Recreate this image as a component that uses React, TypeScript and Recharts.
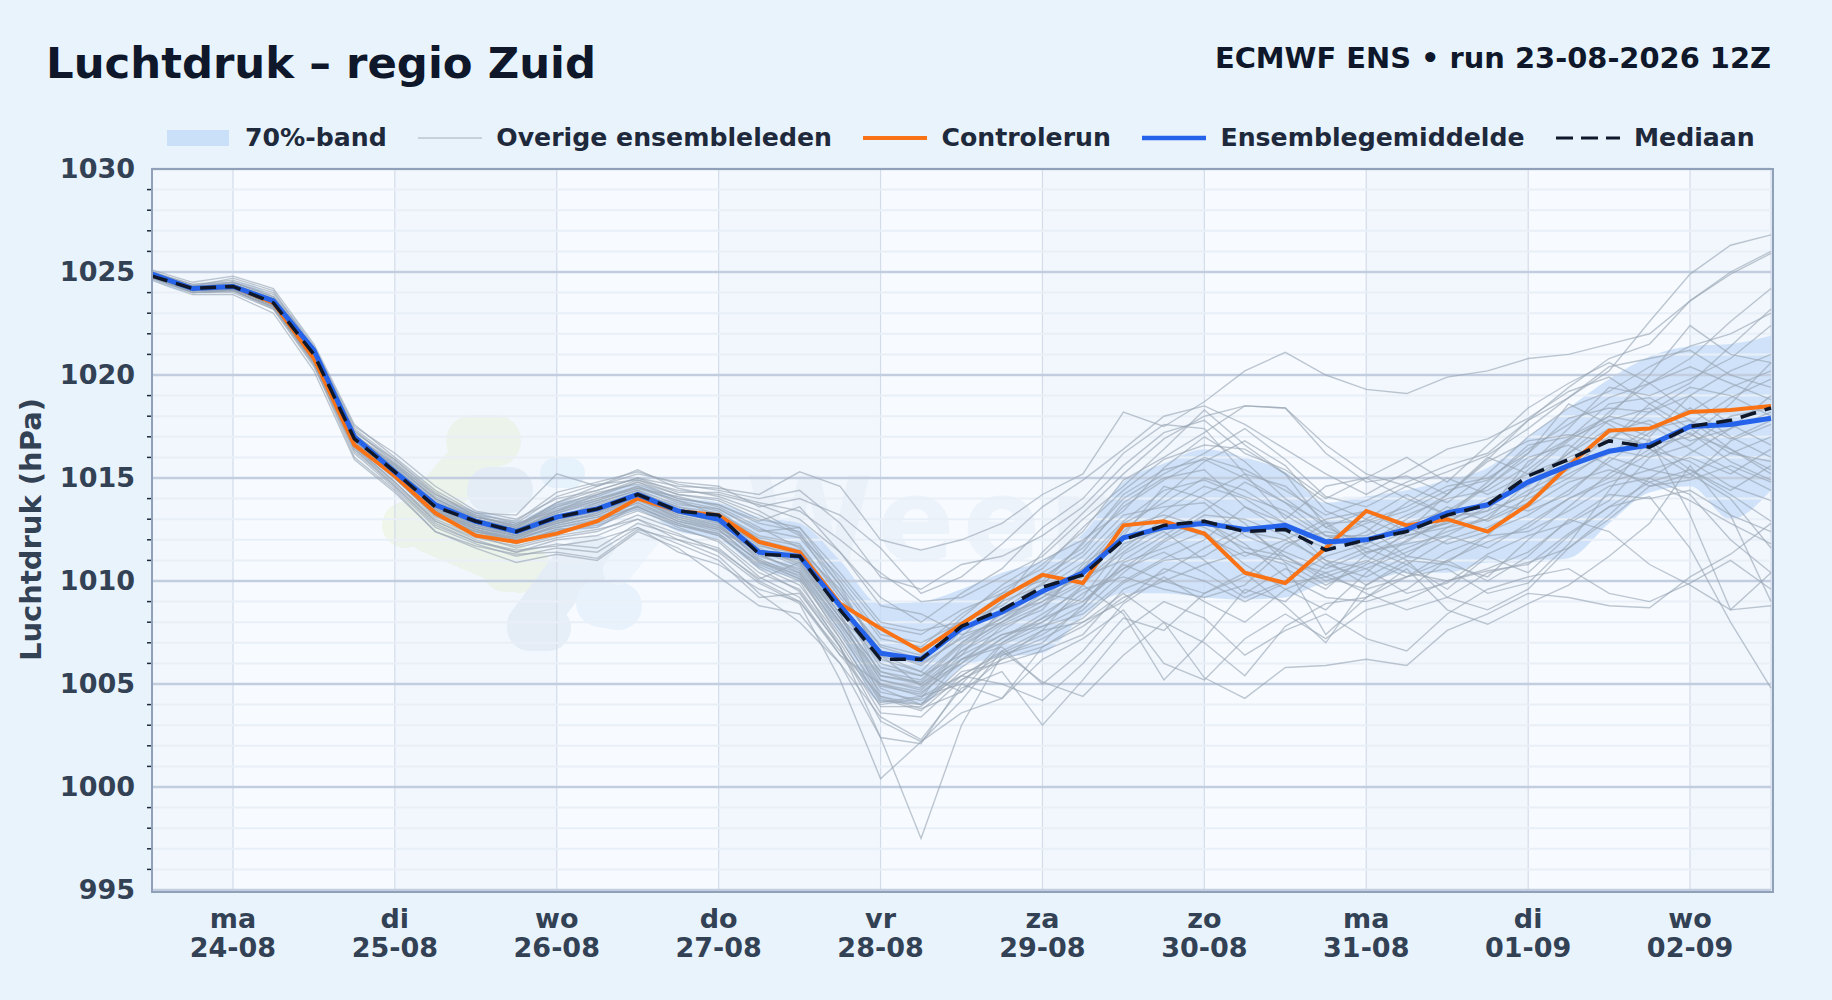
import React from "react";
import {
  ComposedChart,
  Line,
  Area,
  XAxis,
  YAxis,
  CartesianGrid,
  ReferenceArea,
  ReferenceLine,
  Legend,
} from "recharts";

// 6-hourly steps from 23-08 12Z
const dayTicks = [2, 6, 10, 14, 18, 22, 26, 30, 34, 38];
const dayNames = ["ma", "di", "wo", "do", "vr", "za", "zo", "ma", "di", "wo"];
const dayDates = ["24-08", "25-08", "26-08", "27-08", "28-08", "29-08", "30-08", "31-08", "01-09", "02-09"];
const majorPressure = [995, 1000, 1005, 1010, 1015, 1020, 1025, 1030];
const allPressure = [995, 996, 997, 998, 999, 1000, 1001, 1002, 1003, 1004, 1005, 1006, 1007, 1008, 1009, 1010, 1011, 1012, 1013, 1014, 1015, 1016, 1017, 1018, 1019, 1020, 1021, 1022, 1023, 1024, 1025, 1026, 1027, 1028, 1029, 1030];
const darkDays = [[0, 2], [6, 10], [14, 18], [22, 26], [30, 34], [38, 40]];

const meanRun = [1024.9, 1024.2, 1024.3, 1023.6, 1021.2, 1017.0, 1015.3, 1013.7, 1012.9, 1012.4, 1013.1, 1013.5, 1014.2, 1013.4, 1013.0, 1011.4, 1011.2, 1008.8, 1006.5, 1006.2, 1007.7, 1008.5, 1009.5, 1010.4, 1012.1, 1012.6, 1012.8, 1012.5, 1012.7, 1011.9, 1012.0, 1012.5, 1013.3, 1013.7, 1014.8, 1015.6, 1016.3, 1016.6, 1017.5, 1017.6, 1017.9];
const medianRun = [1024.8, 1024.2, 1024.3, 1023.5, 1021.0, 1016.9, 1015.3, 1013.6, 1012.9, 1012.4, 1013.1, 1013.5, 1014.2, 1013.4, 1013.2, 1011.3, 1011.2, 1008.6, 1006.2, 1006.2, 1007.8, 1008.6, 1009.7, 1010.3, 1012.0, 1012.7, 1012.9, 1012.4, 1012.5, 1011.5, 1012.0, 1012.4, 1013.2, 1013.7, 1015.1, 1015.9, 1016.8, 1016.5, 1017.5, 1017.8, 1018.4];
const controlRun = [1024.9, 1024.2, 1024.3, 1023.5, 1020.8, 1016.6, 1015.1, 1013.3, 1012.2, 1011.9, 1012.3, 1012.9, 1014.0, 1013.4, 1013.2, 1011.9, 1011.4, 1008.9, 1007.7, 1006.6, 1007.9, 1009.2, 1010.3, 1009.9, 1012.7, 1012.9, 1012.3, 1010.4, 1009.9, 1011.6, 1013.4, 1012.7, 1013.0, 1012.4, 1013.7, 1015.6, 1017.3, 1017.4, 1018.2, 1018.3, 1018.5];
const bandLow = [1024.6, 1024.0, 1024.1, 1023.3, 1020.6, 1016.5, 1014.9, 1013.2, 1012.5, 1011.9, 1012.3, 1012.6, 1013.4, 1012.4, 1012.0, 1010.6, 1010.0, 1007.4, 1004.1, 1004.0, 1005.8, 1006.3, 1006.5, 1008.3, 1009.4, 1009.4, 1009.2, 1009.1, 1009.2, 1009.9, 1010.0, 1010.4, 1010.4, 1010.9, 1010.9, 1011.1, 1012.8, 1014.3, 1014.6, 1013.0, 1014.4];
const bandHigh = [1025.1, 1024.4, 1024.5, 1023.8, 1021.4, 1017.3, 1015.7, 1014.1, 1013.4, 1013.0, 1013.8, 1014.2, 1014.7, 1014.1, 1013.8, 1013.1, 1012.8, 1011.0, 1008.9, 1009.0, 1009.6, 1010.4, 1011.0, 1012.3, 1014.8, 1015.7, 1016.4, 1016.0, 1015.3, 1013.8, 1014.1, 1014.4, 1014.9, 1015.5, 1017.0, 1018.4, 1019.8, 1020.9, 1021.4, 1021.5, 1021.9];

const members = [
  [1025.0,1024.4,1024.6,1024.0,1021.4,1017.5, 1016.2,1014.6,1013.4,1013.0,1014.0,1014.4,1015.0,1014.6, 1014.5,1014.2,1015.3,1014.6,1012.0,1011.5,1012.0,1012.8, 1014.2,1015.2,1018.2,1017.5,1018.7,1020.2,1021.1,1020.0, 1019.3,1019.1,1019.9,1020.2,1020.8,1021.0,1021.5,1022.0, 1023.6,1024.9,1025.9],
  [1024.9,1024.3,1024.7,1024.1,1021.2,1017.2, 1015.9,1014.3,1013.1,1012.8,1013.4,1014.2,1014.8,1014.2, 1014.0,1013.2,1012.2,1010.2,1007.8,1007.4,1008.6,1009.4, 1010.8,1012.4,1014.9,1016.0,1017.2,1018.5,1018.4,1016.6, 1015.2,1014.6,1015.3,1016.1,1017.4,1018.9,1020.2,1022.6, 1024.9,1026.3,1026.8],
  [1025.0,1024.2,1024.5,1023.8,1021.2,1017.3, 1015.8,1014.1,1013.2,1012.6,1013.8,1014.6,1015.4,1014.5, 1014.1,1013.4,1012.3,1009.4,1006.6,1005.9,1007.3,1009.0, 1011.4,1013.3,1015.2,1016.9,1018.0,1018.5,1018.4,1016.2, 1014.8,1015.1,1014.2,1015.9,1017.8,1019.4,1020.8,1021.5, 1023.6,1025.0,1026.0],
  [1024.8,1024.0,1024.1,1023.3,1020.7,1016.6, 1015.0,1013.1,1012.4,1012.0,1012.7,1013.1,1013.6,1012.8, 1012.2,1010.8,1010.0,1006.8,1002.4,997.5,1003.0,1006.4, 1007.0,1008.8,1011.3,1012.4,1011.0,1009.4,1010.6,1009.6, 1011.3,1012.2,1012.8,1014.0,1014.6,1016.2,1017.8,1018.4, 1017.1,1016.4,1015.4],
  [1024.7,1024.0,1024.0,1023.2,1020.4,1016.4, 1014.7,1012.9,1012.1,1011.7,1012.2,1012.5,1013.0,1012.3, 1011.4,1009.9,1008.9,1005.2,1000.4,1002.2,1004.2,1006.6, 1005.1,1004.4,1006.4,1008.0,1005.3,1004.3,1005.8,1005.9, 1006.2,1005.9,1007.6,1008.4,1009.4,1009.2,1008.8,1008.7, 1010.2,1011.3,1012.8],
  [1024.8,1024.1,1024.2,1023.4,1020.8,1016.8, 1015.2,1013.4,1012.5,1012.1,1012.9,1013.2,1014.0,1013.0, 1012.5,1010.9,1010.3,1007.2,1004.1,1004.4,1005.0,1004.3, 1006.2,1007.2,1008.6,1006.0,1005.2,1007.2,1008.4,1007.2, 1008.6,1009.1,1010.0,1010.5,1010.8,1012.3,1013.6,1014.1, 1011.6,1008.0,1004.8],
  [1024.9,1024.2,1024.3,1023.5,1021.0,1017.0, 1015.4,1013.6,1012.7,1012.2,1013.0,1013.8,1014.4,1013.4, 1012.8,1011.0,1010.4,1007.6,1004.8,1004.0,1006.2,1006.8, 1005.0,1006.6,1008.9,1010.2,1009.0,1008.0,1009.6,1010.4, 1011.0,1010.2,1010.6,1009.4,1009.9,1011.8,1014.4,1016.9, 1013.2,1008.6,1008.8],
  [1024.8,1024.1,1024.2,1023.4,1020.5,1016.0, 1014.4,1012.4,1011.7,1011.3,1011.4,1011.1,1012.5,1012.0, 1011.2,1009.4,1008.0,1006.0,1002.4,1002.1,1005.0,1007.0, 1008.0,1009.2,1011.8,1012.5,1013.0,1011.4,1010.8,1007.4, 1009.2,1010.6,1008.6,1007.9,1008.9,1009.8,1011.2,1012.8, 1015.6,1013.2,1009.0],
  [1024.9,1024.2,1024.2,1023.4,1020.9,1016.7, 1015.0,1013.2,1012.3,1011.8,1012.5,1012.6,1013.7,1012.9, 1012.4,1011.5,1010.9,1008.4,1004.4,1003.8,1004.6,1006.9, 1007.8,1008.4,1010.0,1011.1,1012.0,1013.6,1012.8,1011.0, 1009.8,1010.8,1012.0,1012.6,1013.6,1014.8,1015.4,1014.8, 1013.9,1012.8,1011.8],
  [1025.0,1024.3,1024.4,1023.7,1021.1,1017.1, 1015.6,1014.0,1013.0,1012.6,1013.5,1014.0,1014.5,1014.1, 1013.6,1012.6,1011.6,1009.0,1005.4,1005.0,1006.6,1007.6, 1008.8,1010.6,1012.8,1013.8,1015.0,1014.4,1013.2,1012.0, 1012.8,1013.4,1014.4,1014.9,1016.4,1017.6,1018.9,1019.6, 1020.4,1019.6,1018.8],
  [1024.8,1024.1,1024.2,1023.5,1020.9,1016.8, 1015.1,1013.4,1012.6,1012.2,1012.8,1013.3,1014.1,1013.3, 1012.9,1011.9,1011.4,1008.8,1005.8,1005.4,1007.0,1008.4, 1009.0,1010.0,1011.6,1013.0,1014.2,1015.2,1014.6,1012.9, 1011.4,1011.9,1013.1,1013.4,1015.8,1016.9,1017.8,1017.0, 1019.0,1020.2,1021.0],
  [1024.9,1024.2,1024.3,1023.6,1021.1,1017.0, 1015.4,1013.8,1013.0,1012.5,1013.4,1013.9,1014.6,1013.8, 1013.4,1012.0,1011.5,1009.6,1006.4,1004.9,1006.0,1007.2, 1008.2,1009.8,1012.4,1014.1,1015.8,1016.8,1015.6,1013.4, 1012.6,1011.2,1010.9,1012.2,1014.2,1016.4,1018.2,1019.6, 1018.2,1019.4,1020.2],
  [1024.7,1024.1,1024.1,1023.3,1020.6,1016.5, 1014.8,1013.0,1012.2,1011.6,1012.1,1012.4,1013.2,1012.5, 1012.0,1010.4,1009.6,1007.0,1003.9,1003.9,1005.6,1006.0, 1006.6,1007.4,1009.6,1010.4,1011.6,1012.6,1011.2,1010.0, 1010.6,1009.4,1009.9,1011.3,1012.2,1012.8,1013.9,1016.0, 1017.6,1018.9,1019.8],
  [1024.9,1024.3,1024.3,1023.6,1021.0,1016.9, 1015.3,1013.6,1012.8,1012.3,1013.1,1013.7,1014.3,1013.6, 1013.3,1012.2,1011.8,1009.2,1006.9,1006.4,1008.2,1009.8, 1011.0,1012.0,1013.4,1015.5,1017.0,1015.8,1014.0,1012.6, 1011.8,1013.0,1014.2,1015.8,1016.8,1017.1,1016.8,1018.2, 1019.0,1017.6,1016.6],
  [1024.8,1024.1,1024.2,1023.4,1020.8,1016.6, 1015.0,1013.2,1012.4,1011.9,1012.4,1012.8,1013.5,1012.6, 1011.9,1010.2,1009.2,1006.4,1004.0,1004.3,1006.8,1008.0, 1009.4,1009.0,1010.8,1010.0,1009.4,1010.2,1011.8,1012.4, 1012.0,1011.0,1010.8,1010.2,1012.0,1013.6,1015.2,1016.4, 1015.8,1014.6,1013.9],
  [1024.9,1024.2,1024.3,1023.5,1021.0,1017.0, 1015.4,1013.7,1012.9,1012.5,1013.3,1013.8,1014.4,1013.7, 1013.5,1012.4,1012.6,1010.4,1008.0,1007.6,1008.0,1008.8, 1010.2,1011.4,1013.8,1015.0,1015.4,1013.6,1012.4,1011.6, 1012.4,1013.8,1015.0,1014.2,1015.2,1016.0,1016.8,1018.6, 1017.4,1016.2,1015.8],
  [1024.8,1024.2,1024.2,1023.5,1020.9,1016.9, 1015.2,1013.5,1012.7,1012.3,1013.0,1013.4,1014.0,1013.1, 1012.6,1011.2,1010.6,1008.0,1005.0,1004.6,1006.0,1007.8, 1008.6,1010.8,1012.2,1014.6,1014.0,1012.8,1010.9,1009.8, 1010.8,1011.6,1012.4,1013.0,1014.0,1015.0,1016.4,1016.0, 1016.6,1018.0,1018.4],
  [1024.9,1024.3,1024.4,1023.6,1021.1,1017.1, 1015.5,1013.9,1013.0,1012.6,1013.6,1014.1,1014.8,1014.0, 1013.7,1012.8,1012.4,1009.8,1006.2,1005.6,1007.6,1009.0, 1009.8,1011.9,1014.0,1015.2,1016.2,1017.4,1015.9,1014.1, 1013.6,1014.6,1013.8,1015.2,1017.0,1018.4,1019.2,1020.4, 1021.4,1022.0,1023.0],
  [1024.8,1024.1,1024.2,1023.4,1020.7,1016.7, 1015.0,1013.3,1012.4,1012.1,1012.6,1012.9,1013.6,1012.7, 1012.3,1011.0,1010.1,1007.4,1004.6,1004.2,1005.4,1006.5, 1007.4,1008.6,1010.4,1011.9,1012.9,1011.8,1010.2,1009.2, 1009.0,1009.6,1011.0,1011.9,1012.6,1014.0,1014.8,1015.4, 1016.0,1015.2,1016.4],
  [1024.9,1024.2,1024.3,1023.6,1021.0,1016.9, 1015.3,1013.5,1012.8,1012.4,1013.2,1013.6,1014.2,1013.5, 1013.0,1011.6,1010.8,1008.2,1005.6,1005.2,1007.0,1008.2, 1009.2,1010.2,1011.0,1012.2,1013.4,1014.8,1013.8,1012.2, 1011.6,1012.4,1013.6,1012.9,1013.8,1015.8,1017.2,1017.8, 1016.8,1017.4,1019.0],
  [1024.8,1024.2,1024.2,1023.4,1020.9,1016.8, 1015.1,1013.3,1012.5,1012.0,1012.6,1013.0,1013.8,1013.0, 1012.6,1011.4,1011.0,1008.6,1006.0,1005.4,1006.4,1007.4, 1008.0,1009.4,1010.6,1011.4,1010.4,1009.2,1010.0,1011.2, 1011.8,1012.8,1013.4,1014.6,1016.0,1016.6,1015.6,1014.6, 1014.9,1015.6,1014.8],
  [1024.9,1024.3,1024.3,1023.6,1021.1,1017.0, 1015.4,1013.7,1012.9,1012.5,1013.4,1014.0,1014.6,1013.9, 1013.5,1012.5,1012.1,1009.8,1007.2,1006.8,1008.4,1009.6, 1010.6,1012.6,1014.4,1015.9,1016.6,1016.4,1015.2,1013.8, 1013.0,1012.2,1012.6,1013.6,1015.4,1016.9,1018.6,1018.9, 1017.8,1016.9,1017.8],
  [1024.7,1024.0,1024.1,1023.3,1020.6,1016.4, 1014.6,1012.7,1011.9,1011.4,1011.8,1011.6,1012.8,1012.2, 1011.6,1010.0,1009.0,1006.6,1004.4,1004.0,1005.2,1006.2, 1006.8,1007.8,1009.2,1010.0,1010.8,1011.4,1011.0,1010.4, 1009.4,1008.6,1009.2,1010.4,1010.9,1011.6,1013.0,1014.6, 1015.2,1016.2,1017.0],
  [1024.8,1024.2,1024.2,1023.5,1020.9,1016.9, 1015.2,1013.5,1012.6,1012.2,1012.9,1013.4,1014.1,1013.2, 1012.7,1011.3,1010.5,1008.0,1005.2,1004.8,1006.6,1007.9, 1008.8,1009.9,1011.4,1012.8,1012.2,1011.2,1012.0,1013.0, 1013.4,1012.6,1011.8,1012.4,1013.2,1014.4,1015.8,1017.2, 1018.4,1017.0,1016.0],
  [1024.9,1024.2,1024.3,1023.5,1021.0,1017.0, 1015.3,1013.6,1012.8,1012.3,1013.2,1013.5,1014.3,1013.6, 1013.1,1011.7,1011.3,1008.9,1006.6,1006.0,1007.2,1008.2, 1009.6,1010.9,1012.9,1014.4,1014.9,1014.1,1013.4,1012.2, 1012.2,1013.2,1014.0,1014.4,1015.6,1017.4,1019.4,1019.0, 1019.8,1020.8,1022.4],
  [1024.8,1024.1,1024.2,1023.4,1020.8,1016.7, 1015.1,1013.2,1012.4,1011.9,1012.5,1012.7,1013.4,1012.7, 1012.2,1010.7,1009.8,1007.2,1004.2,1004.0,1005.8,1007.2, 1008.4,1009.6,1010.2,1009.6,1009.2,1009.8,1011.6,1012.8, 1011.2,1010.4,1010.0,1010.6,1011.4,1012.9,1014.2,1014.0, 1014.4,1013.2,1012.4],
  [1024.9,1024.3,1024.3,1023.6,1021.1,1017.1, 1015.5,1013.8,1013.1,1012.7,1013.7,1014.2,1014.9,1014.2, 1013.9,1013.0,1012.6,1010.0,1007.4,1007.0,1008.0,1009.2, 1010.4,1011.6,1013.6,1014.9,1016.0,1015.4,1014.4,1013.2, 1013.9,1014.8,1015.6,1016.2,1017.8,1018.9,1020.4,1020.8, 1021.2,1020.0,1019.4],
  [1024.8,1024.2,1024.2,1023.5,1020.9,1016.8, 1015.2,1013.4,1012.6,1012.1,1012.8,1013.2,1013.9,1013.1, 1012.7,1011.1,1010.2,1007.8,1004.9,1004.5,1006.2,1007.4, 1007.8,1008.8,1010.9,1011.6,1012.4,1010.8,1009.6,1008.6, 1010.4,1012.0,1012.9,1013.8,1013.4,1014.2,1016.0,1015.4, 1015.0,1016.8,1017.6],
  [1024.9,1024.2,1024.3,1023.5,1021.0,1016.9, 1015.3,1013.6,1012.8,1012.4,1013.0,1013.6,1014.2,1013.4, 1013.0,1011.8,1011.0,1008.4,1005.2,1004.7,1006.4,1008.6, 1009.9,1011.2,1013.2,1013.6,1013.8,1012.2,1011.4,1010.6, 1011.4,1011.8,1012.2,1013.2,1014.4,1015.4,1017.0,1016.6, 1017.0,1018.6,1020.6],
  [1024.8,1024.1,1024.2,1023.4,1020.8,1016.7, 1015.0,1013.2,1012.3,1011.9,1012.4,1012.9,1013.6,1012.8, 1012.3,1010.6,1009.5,1006.8,1003.6,1003.4,1005.2,1006.4, 1007.2,1008.2,1009.9,1011.0,1011.2,1012.4,1012.0,1011.0, 1010.6,1011.4,1012.2,1011.6,1012.8,1014.0,1015.0,1016.2, 1017.2,1015.8,1014.9],
  [1024.9,1024.3,1024.4,1023.7,1021.2,1017.1, 1015.6,1014.0,1013.1,1012.7,1013.6,1014.3,1014.7,1014.0, 1013.7,1012.9,1013.6,1011.4,1008.8,1008.4,1007.4,1008.0, 1009.2,1010.6,1012.0,1013.4,1014.6,1014.0,1012.8,1011.8, 1013.0,1014.2,1013.2,1014.8,1016.6,1017.0,1018.0,1017.6, 1016.4,1015.4,1014.4],
  [1024.8,1024.2,1024.2,1023.5,1020.9,1016.8, 1015.1,1013.4,1012.6,1012.2,1012.8,1013.3,1014.0,1013.2, 1012.8,1011.5,1010.7,1008.2,1005.6,1005.0,1006.2,1007.0, 1008.2,1009.0,1010.6,1012.0,1013.2,1013.0,1012.2,1010.8, 1010.2,1011.2,1012.6,1013.0,1014.8,1016.2,1017.4,1016.8, 1015.4,1014.2,1012.9],
  [1024.9,1024.2,1024.3,1023.6,1021.0,1017.0, 1015.4,1013.7,1012.9,1012.5,1013.3,1013.9,1014.5,1013.9, 1013.2,1012.1,1011.7,1009.4,1006.8,1006.2,1007.8,1009.4, 1010.0,1011.8,1014.2,1015.4,1015.9,1015.0,1013.8,1012.8, 1012.9,1013.6,1014.6,1015.0,1016.2,1017.9,1018.4,1018.2, 1019.4,1019.0,1018.0],
  [1024.8,1024.1,1024.2,1023.4,1020.8,1016.8, 1015.1,1013.3,1012.5,1012.0,1012.7,1013.1,1013.8,1012.9, 1012.5,1010.9,1010.1,1007.6,1004.3,1003.7,1005.4,1006.6, 1007.6,1008.0,1009.0,1010.6,1010.0,1009.0,1009.9,1010.2, 1009.6,1010.2,1011.4,1012.2,1012.4,1013.4,1014.6,1015.0, 1016.2,1017.4,1018.2],
  [1024.9,1024.2,1024.3,1023.5,1020.9,1016.9, 1015.2,1013.5,1012.7,1012.3,1012.9,1013.5,1014.1,1013.3, 1012.9,1011.3,1010.4,1007.9,1005.4,1005.1,1006.9,1008.0, 1009.0,1010.4,1012.6,1013.2,1012.6,1011.6,1011.2,1010.2, 1010.9,1012.4,1012.8,1013.4,1014.2,1015.2,1016.2,1017.4, 1017.8,1016.4,1015.2],
  [1025.1,1024.5,1024.8,1024.2,1021.5,1017.6, 1016.0,1014.4,1013.3,1013.2,1015.2,1014.6,1015.2,1014.8, 1014.6,1013.6,1014.0,1013.2,1011.6,1009.4,1010.2,1011.8, 1013.6,1014.9,1016.4,1018.0,1018.5,1017.6,1016.4,1015.2, 1014.2,1015.3,1016.4,1016.9,1017.9,1019.2,1019.9,1018.6, 1019.6,1021.4,1023.2],
  [1024.6,1023.9,1023.9,1023.0,1020.2,1015.9, 1014.3,1012.4,1011.6,1010.9,1011.3,1011.0,1012.4,1011.6, 1010.2,1008.8,1008.4,1006.0,1003.4,1002.3,1004.8,1005.6, 1003.0,1005.2,1007.6,1009.0,1008.2,1006.4,1007.6,1008.4, 1007.2,1006.6,1008.4,1009.6,1010.2,1010.6,1009.4,1009.0, 1009.9,1011.0,1009.6],
  [1024.7,1024.0,1024.1,1023.2,1020.5,1016.2, 1014.5,1012.6,1011.8,1011.2,1011.6,1011.4,1012.6,1011.8, 1011.0,1009.2,1009.4,1006.8,1003.2,1002.2,1003.6,1004.3, 1006.8,1008.0,1009.4,1008.0,1007.0,1005.4,1007.8,1008.9, 1009.2,1010.2,1011.0,1010.0,1011.2,1013.0,1012.4,1010.8, 1009.8,1008.6,1010.4],
  [1024.9,1024.3,1024.4,1023.7,1021.1,1017.1, 1015.7,1014.2,1013.2,1012.9,1014.3,1014.8,1015.3,1014.7, 1014.4,1014.0,1014.4,1012.8,1010.2,1009.6,1010.8,1011.2, 1012.2,1013.6,1015.6,1017.2,1017.8,1016.2,1015.4,1014.0, 1015.0,1016.0,1014.8,1016.6,1018.4,1019.6,1020.6,1019.6, 1020.8,1022.6,1024.2],
  [1024.8,1024.1,1024.1,1023.3,1020.6,1016.3, 1014.6,1012.8,1011.9,1011.5,1011.7,1012.0,1012.6,1011.4, 1010.8,1009.6,1009.0,1006.4,1005.0,1004.4,1005.4,1005.0, 1004.2,1006.0,1008.2,1007.6,1009.4,1010.4,1008.8,1007.0, 1009.8,1011.0,1009.2,1008.6,1009.6,1011.6,1013.2,1015.0, 1014.2,1012.0,1010.4],
  [1025.0,1024.3,1024.5,1023.8,1021.3,1017.4, 1015.9,1014.2,1013.3,1012.8,1014.1,1014.7,1014.9,1014.4, 1014.2,1013.7,1013.0,1011.4,1009.2,1008.0,1009.4,1010.6, 1012.6,1014.0,1016.2,1017.6,1017.4,1015.2,1013.0,1014.6, 1015.0,1014.0,1013.2,1014.6,1016.2,1018.6,1017.6,1016.4, 1015.2,1014.0,1011.6],
  [1024.8,1024.1,1024.2,1023.4,1020.7,1016.5, 1014.8,1012.9,1012.0,1011.4,1012.0,1012.2,1013.0,1012.0, 1011.5,1010.1,1010.9,1008.2,1006.4,1005.6,1004.6,1006.2, 1007.6,1009.8,1008.4,1005.2,1007.2,1009.6,1009.0,1010.8, 1011.6,1010.8,1009.6,1011.2,1010.4,1012.2,1013.6,1014.8, 1015.4,1014.4,1015.6],
  [1025.0,1024.4,1024.5,1023.9,1021.3,1017.3, 1015.7,1014.0,1013.1,1012.7,1013.8,1014.4,1015.0,1014.3, 1014.3,1013.8,1013.4,1012.0,1010.4,1009.0,1009.2,1010.2, 1011.2,1013.0,1014.6,1016.4,1018.3,1016.6,1015.2,1012.6, 1013.4,1012.4,1014.2,1016.0,1015.2,1016.8,1018.0,1020.0, 1022.4,1021.0,1020.6],
];

const tableData = meanRun.map((value, i) => {
  const row: any = {
    step: i,
    mean: value,
    median: medianRun[i],
    control: controlRun[i],
    band: [bandLow[i], bandHigh[i]],
  };
  members.forEach((m, k) => {
    row[`m${k}`] = m[i];
  });
  return row;
});

const FONT = "'DejaVu Sans', sans-serif";
const LEFT = 152;
const TOP = 169;
const PLOT_W = 1619;
const PLOT_H = 721;

function YTick({ x, y, payload }: any) {
  if (majorPressure.includes(payload.value)) {
    return (
      <text x={x - 9} y={y} dy={9} textAnchor="end" fontFamily={FONT} fontWeight={700} fontSize={27} fill="#334155">
        {payload.value}
      </text>
    );
  }
  return <line x1={x + 3} x2={x + 7} y1={y} y2={y} stroke="#1e293b" strokeWidth={1.5} />;
}

function XTick({ x, y, payload }: any) {
  const i = dayTicks.indexOf(payload.value);
  return (
    <text textAnchor="middle" fontFamily={FONT} fontWeight={700} fontSize={27} fill="#334155">
      <tspan x={x} y={y + 30}>{dayNames[i]}</tspan>
      <tspan x={x} y={y + 59}>{dayDates[i]}</tspan>
    </text>
  );
}

function Swatch({ kind }: { kind: string }) {
  return (
    <svg width={64} height={18} style={{ marginRight: 14 }}>
      {kind === "band" && <rect x={0} y={1} width={62} height={16} fill="#cadff8" />}
      {kind === "member" && <line x1={0} x2={64} y1={9} y2={9} stroke="#bcc6d2" strokeWidth={1.5} />}
      {kind === "control" && <line x1={0} x2={64} y1={9} y2={9} stroke="#f97316" strokeWidth={4} />}
      {kind === "mean" && <line x1={0} x2={64} y1={9} y2={9} stroke="#2563eb" strokeWidth={4.5} />}
      {kind === "median" && <line x1={0} x2={64} y1={9} y2={9} stroke="#0f172a" strokeWidth={3.2} strokeDasharray="17 8" />}
    </svg>
  );
}

const legendItems = [
  ["band", "70%-band"],
  ["member", "Overige ensembleleden"],
  ["control", "Controlerun"],
  ["mean", "Ensemblegemiddelde"],
  ["median", "Mediaan"],
];

function LegendRow() {
  return (
    <div
      style={{
        display: "flex",
        alignItems: "center",
        fontFamily: FONT,
        fontWeight: 700,
        fontSize: 25.2,
        color: "#1e293b",
      }}
    >
      {legendItems.map(([kind, label]) => (
        <div key={label} style={{ display: "flex", alignItems: "center", marginRight: 31.5 }}>
          <Swatch kind={kind} />
          <span>{label}</span>
        </div>
      ))}
    </div>
  );
}

function Watermark() {
  return (
    <svg width={PLOT_W} height={PLOT_H} style={{ position: "absolute", left: 0, top: 0 }}>
      <g transform={`translate(${-LEFT},${-TOP})`} strokeLinecap="round" strokeLinejoin="round" fill="none">
        <path d="M470 440 L495 442 M462 470 L420 520 L405 525 M430 530 L500 560 L520 570" stroke="#f0f6ea" strokeWidth={46} />
        <path d="M472 441 L495 441" stroke="#f0f6ea" strokeWidth={52} />
        <path d="M505 570 L530 570" stroke="#f0f6ea" strokeWidth={44} />
        <path d="M490 490 L510 490 M530 628 L548 628 M530 625 L575 565 L595 558" stroke="#e6eef7" strokeWidth={46} />
        <path d="M555 473 L570 473" stroke="#e6f2fc" strokeWidth={30} />
        <path d="M600 603 L618 606" stroke="#e8f2fc" strokeWidth={48} />
        <path d="M618 570 L650 530" stroke="#eef5fc" strokeWidth={30} />
        <text x={746} y={560} fontFamily={FONT} fontWeight={700} fontSize={115} fill="#edf3fb" letterSpacing={8}>
          Weerplaza
        </text>
      </g>
    </svg>
  );
}

export default function App() {
  document.body.style.margin = "0";
  document.body.style.background = "#e8f3fc";

  return (
    <div style={{ position: "relative", width: 1832, height: 1000, background: "#e8f3fc", overflow: "hidden" }}>
      <div style={{ position: "absolute", left: 46, top: 38, fontFamily: FONT, fontWeight: 700, fontSize: 43.4, color: "#0f172a" }}>
        Luchtdruk – regio Zuid
      </div>
      <div style={{ position: "absolute", right: 61, top: 41, fontFamily: FONT, fontWeight: 700, fontSize: 28.9, color: "#0f172a" }}>
        ECMWF ENS • run 23-08-2026 12Z
      </div>

      <div style={{ position: "absolute", left: LEFT, top: TOP, width: PLOT_W, height: PLOT_H, background: "#f7fbff" }}>
        <Watermark />
      </div>

      <div style={{ position: "absolute", left: 0, top: 0 }}>
        <ComposedChart
          width={1832}
          height={1000}
          data={tableData}
          margin={{ top: TOP - 29, right: 61, left: 0, bottom: 0 }}
        >
          <Legend
            verticalAlign="top"
            content={<LegendRow />}
            wrapperStyle={{ position: "absolute", left: 167, top: 123, width: 1640 }}
          />
          {darkDays.map(([a, b]) => (
            <ReferenceArea key={a} x1={a} x2={b} y1={995} y2={1030} fill="#dbe6f4" fillOpacity={0.16} stroke="none" />
          ))}
          {allPressure.filter((v) => !majorPressure.includes(v)).map((v) => (
            <ReferenceLine key={v} y={v} stroke="#e9eff7" strokeWidth={2} />
          ))}
          <CartesianGrid horizontal={false} vertical stroke="#d3dbe9" strokeWidth={1.2} />
          {majorPressure.map((v) => (
            <ReferenceLine key={v} y={v} stroke="#c2cee0" strokeWidth={2.5} />
          ))}

          <XAxis
            dataKey="step"
            type="number"
            domain={[0, 40]}
            ticks={dayTicks}
            interval={0}
            height={110}
            axisLine={false}
            tickLine={false}
            tick={<XTick />}
          />
          <YAxis
            type="number"
            domain={[995, 1030]}
            ticks={allPressure}
            interval={0}
            width={LEFT}
            axisLine={false}
            tickLine={false}
            tick={<YTick />}
            label={{
              value: "Luchtdruk (hPa)",
              angle: -90,
              position: "insideLeft",
              dx: 26,
              dy: 0,
              style: { fontFamily: FONT, fontWeight: 700, fontSize: 29, fill: "#334155", textAnchor: "middle" },
            }}
          />

          <Area
            dataKey="band"
            type="monotone"
            fill="#c6dcf8"
            fillOpacity={0.8}
            stroke="none"
            isAnimationActive={false}
            dot={false}
            activeDot={false}
          />
          {members.map((_, k) => (
            <Line
              key={k}
              dataKey={`m${k}`}
              stroke="#98a4b3"
              strokeOpacity={0.62}
              strokeWidth={1.4}
              dot={false}
              activeDot={false}
              isAnimationActive={false}
            />
          ))}
          <Line dataKey="control" stroke="#f97316" strokeWidth={4} dot={false} activeDot={false} isAnimationActive={false} />
          <Line dataKey="mean" stroke="#2563eb" strokeWidth={5} dot={false} activeDot={false} isAnimationActive={false} />
          <Line dataKey="median" stroke="#0f172a" strokeWidth={3.5} strokeDasharray="16 9" dot={false} activeDot={false} isAnimationActive={false} />
        </ComposedChart>
      </div>

      <div
        style={{
          position: "absolute",
          left: LEFT - 1,
          top: TOP - 1,
          width: PLOT_W,
          height: PLOT_H,
          border: "2px solid #8fa0b8",
          pointerEvents: "none",
        }}
      />
    </div>
  );
}
